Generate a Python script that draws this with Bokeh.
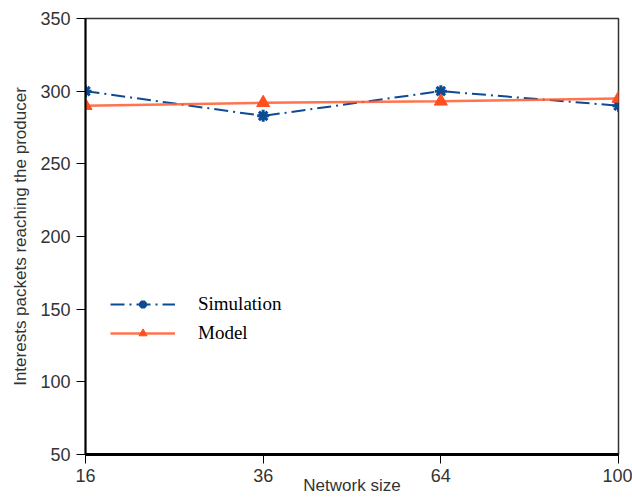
from bokeh.plotting import figure
from bokeh.models import FixedTicker, Legend, LegendItem, Range1d, Title
from bokeh.embed import file_html
from bokeh.resources import INLINE

categories = ["16", "36", "64", "100"]
simulation = [300, 283, 300, 290]
model = [290, 292, 293, 295]
y_ticks = [50, 100, 150, 200, 250, 300, 350]
x_title = "Network size"
y_title = "Interests packets reaching the producer"

x_index = list(range(len(categories)))

p = figure(width=632, height=500, output_backend="svg", toolbar_location=None,
           x_range=Range1d(0, len(categories) - 1), y_range=Range1d(50, 350),
           min_border_left=85, min_border_right=14, min_border_top=18, min_border_bottom=46)

p.xgrid.visible = False
p.ygrid.visible = False
p.outline_line_color = "#333333"
p.outline_line_width = 1.5
p.background_fill_color = "white"
p.border_fill_color = "white"

sim_line = p.line(x_index, simulation, line_color="#0d4a94", line_width=2, line_dash="14 5 2 5")
sim_mark = p.scatter(x_index, simulation, marker="asterisk", size=12, line_color="#0d4a94", line_width=3)
mod_line = p.line(x_index, model, line_color="#ff5a2e", line_width=2.5, line_alpha=0.85)
mod_mark = p.scatter(x_index, model, marker="triangle", size=13, fill_color="#ff4f1f", line_color="#ff4f1f")

font = "Liberation Sans"
p.xaxis.ticker = FixedTicker(ticks=x_index)
p.xaxis.major_label_overrides = {i: c for i, c in enumerate(categories)}
p.yaxis.ticker = FixedTicker(ticks=y_ticks)
for ax in (p.xaxis, p.yaxis):
    ax.major_label_text_font = font
    ax.major_label_text_font_size = "18px"
    ax.major_label_text_color = "#333333"
    ax.axis_label_text_font = font
    ax.axis_label_text_font_size = "17px"
    ax.axis_label_text_font_style = "normal"
    ax.axis_label_text_color = "#333333"
    ax.major_tick_out = 9
    ax.major_tick_in = 0
    ax.minor_tick_out = 0
    ax.minor_tick_in = 0
    ax.major_tick_line_color = "black"
    ax.axis_line_color = "black"

p.xaxis.axis_line_width = 3
p.yaxis.axis_line_width = 2
p.xaxis.axis_label = x_title
p.xaxis.major_label_standoff = 5
p.xaxis.axis_label_standoff = -9
p.yaxis.major_label_standoff = 6

y_label = Title(text=y_title, align="center", offset=21, standoff=15,
                text_font=font, text_font_size="17px", text_font_style="normal",
                text_color="#333333")
p.add_layout(y_label, "left")

legend = Legend(items=[
    LegendItem(label="Simulation", renderers=[sim_line, sim_mark]),
    LegendItem(label="Model", renderers=[mod_line, mod_mark]),
], location=(25, 110))
legend.border_line_color = None
legend.background_fill_alpha = 0
legend.padding = 0
legend.margin = 0
legend.spacing = 7
legend.glyph_width = 65
legend.glyph_height = 20
legend.label_height = 20
legend.label_standoff = 23
legend.label_text_font = "Liberation Serif"
legend.label_text_font_size = "19px"
legend.label_text_color = "black"
p.add_layout(legend)

open("out.html", "w").write(file_html(p, INLINE))
